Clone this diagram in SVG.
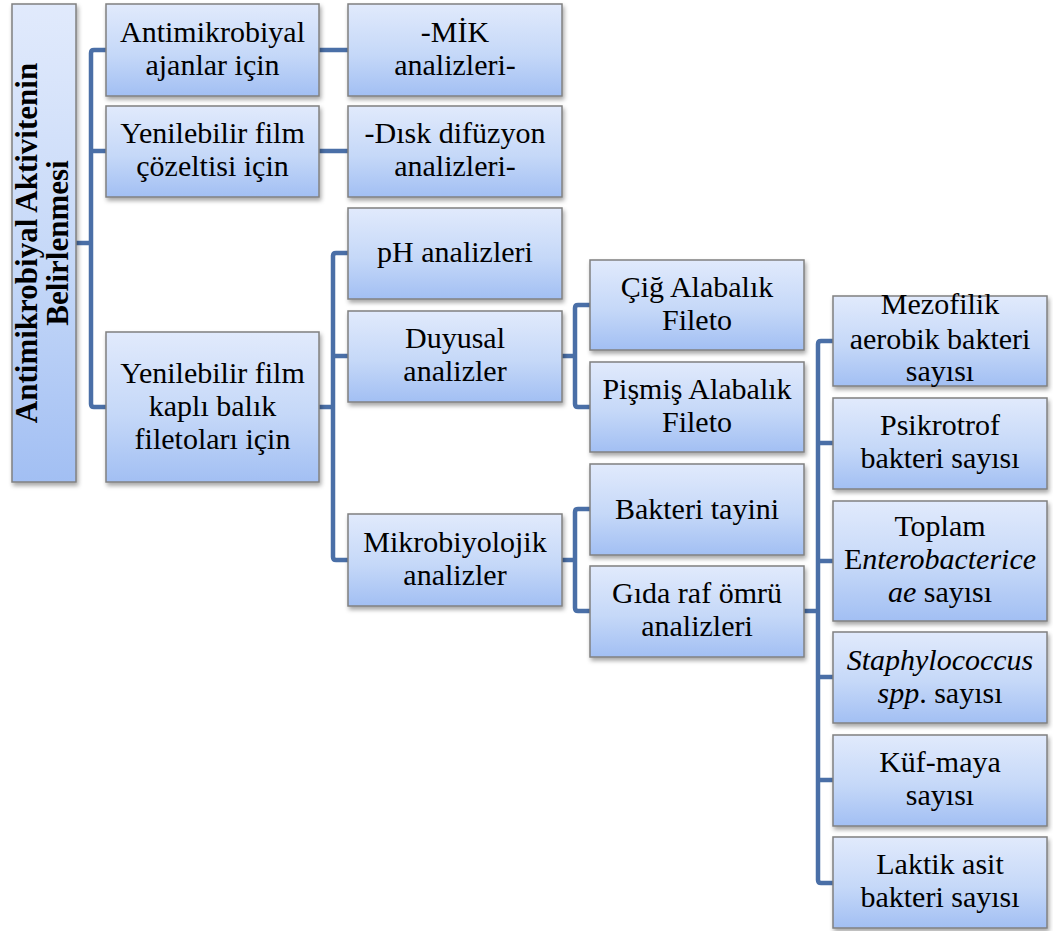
<svg xmlns="http://www.w3.org/2000/svg" width="1053" height="931" viewBox="0 0 1053 931">
<defs>
<linearGradient id="g" x1="0" y1="0" x2="0" y2="1">
<stop offset="0" stop-color="#e1eafc"/>
<stop offset="0.55" stop-color="#c5d8f8"/>
<stop offset="1" stop-color="#a2bff3"/>
</linearGradient>
<filter id="sh" x="-10%" y="-10%" width="125%" height="130%">
<feDropShadow dx="1.5" dy="3" stdDeviation="2" flood-color="#000" flood-opacity="0.35"/>
</filter>
<style>
.b{fill:url(#g);stroke:#808080;stroke-width:1.5;filter:url(#sh)}
.t{font-family:"Liberation Serif","Times New Roman",serif;font-size:30px;fill:#000;text-anchor:middle}
.r{font-family:"Liberation Serif","Times New Roman",serif;font-size:31px;font-weight:bold;fill:#000;text-anchor:middle}
.c{fill:none;stroke:#4a6fa7;stroke-width:4.5;stroke-linejoin:round;stroke-linecap:butt}
.i{font-style:italic}
</style>
</defs>
<rect width="1053" height="931" fill="#fff"/>
<g id="connectors">
<path class="c" d="M76,243H91"/>
<path class="c" d="M106,50H94Q91,50 91,53V404Q91,407 94,407H106"/>
<path class="c" d="M91,151H106"/>
<path class="c" d="M319,50H348"/>
<path class="c" d="M319,151H348"/>
<path class="c" d="M319,407H333"/>
<path class="c" d="M348,253H336Q333,253 333,256V557Q333,560 336,560H348"/>
<path class="c" d="M333,356H348"/>
<path class="c" d="M562,356H575"/>
<path class="c" d="M590,305H578Q575,305 575,308V404Q575,407 578,407H590"/>
<path class="c" d="M562,560H575"/>
<path class="c" d="M590,509H578Q575,509 575,512V608Q575,611 578,611H590"/>
<path class="c" d="M804,611H818"/>
<path class="c" d="M833,341H821Q818,341 818,344V880Q818,883 821,883H833"/>
<path class="c" d="M818,443H833M818,561H833M818,677H833M818,780H833"/>
</g>
<g id="root">
<rect class="b" x="12" y="4" width="64" height="478"/>
<text class="r" transform="translate(37,243) rotate(-90)">Antimikrobiyal Aktivitenin</text>
<text class="r" transform="translate(68,243) rotate(-90)">Belirlenmesi</text>
</g>
<g id="n-antimikrobiyal">
<rect class="b" x="106" y="4" width="213" height="92"/>
<text class="t" x="212.5" y="42">Antimikrobiyal</text>
<text class="t" x="212.5" y="75">ajanlar için</text>
</g>
<g id="n-film-cozelti">
<rect class="b" x="106" y="106" width="213" height="91"/>
<text class="t" x="212.5" y="143">Yenilebilir film</text>
<text class="t" x="212.5" y="176">çözeltisi için</text>
</g>
<g id="n-film-balik">
<rect class="b" x="106" y="332" width="213" height="150"/>
<text class="t" x="212.5" y="383">Yenilebilir film</text>
<text class="t" x="212.5" y="416">kaplı balık</text>
<text class="t" x="212.5" y="449">filetoları için</text>
</g>
<g id="n-mik">
<rect class="b" x="348" y="4" width="214" height="92"/>
<text class="t" x="455" y="42">-MİK</text>
<text class="t" x="455" y="75">analizleri-</text>
</g>
<g id="n-disk">
<rect class="b" x="348" y="106" width="214" height="91"/>
<text class="t" x="455" y="143">-Dısk difüzyon</text>
<text class="t" x="455" y="176">analizleri-</text>
</g>
<g id="n-ph">
<rect class="b" x="348" y="208" width="214" height="91"/>
<text class="t" x="455" y="262">pH analizleri</text>
</g>
<g id="n-duyusal">
<rect class="b" x="348" y="311" width="214" height="91"/>
<text class="t" x="455" y="348">Duyusal</text>
<text class="t" x="455" y="381">analizler</text>
</g>
<g id="n-mikro">
<rect class="b" x="348" y="514" width="214" height="92"/>
<text class="t" x="455" y="552">Mikrobiyolojik</text>
<text class="t" x="455" y="585">analizler</text>
</g>
<g id="n-cig">
<rect class="b" x="590" y="260" width="214" height="90"/>
<text class="t" x="697" y="297">Çiğ Alabalık</text>
<text class="t" x="697" y="330">Fileto</text>
</g>
<g id="n-pismis">
<rect class="b" x="590" y="362" width="214" height="90"/>
<text class="t" x="697" y="399">Pişmiş Alabalık</text>
<text class="t" x="697" y="432">Fileto</text>
</g>
<g id="n-bakteri">
<rect class="b" x="590" y="464" width="214" height="91"/>
<text class="t" x="697" y="519">Bakteri tayini</text>
</g>
<g id="n-gida">
<rect class="b" x="590" y="566" width="214" height="91"/>
<text class="t" x="697" y="603">Gıda raf ömrü</text>
<text class="t" x="697" y="636">analizleri</text>
</g>
<g id="n-mezofilik">
<rect class="b" x="833" y="296" width="214" height="90"/>
<text class="t" x="940" y="314">Mezofilik</text>
<text class="t" x="940" y="349">aerobik bakteri</text>
<text class="t" x="940" y="381">sayısı</text>
</g>
<g id="n-psikrotrof">
<rect class="b" x="833" y="398" width="214" height="91"/>
<text class="t" x="940" y="435">Psikrotrof</text>
<text class="t" x="940" y="468">bakteri sayısı</text>
</g>
<g id="n-entero">
<rect class="b" x="833" y="501" width="214" height="120"/>
<text class="t" x="940" y="536">Toplam</text>
<text class="t" x="940" y="569">E<tspan class="i">nterobacterice</tspan></text>
<text class="t" x="940" y="602"><tspan class="i">ae</tspan> sayısı</text>
</g>
<g id="n-staph">
<rect class="b" x="833" y="632" width="214" height="91"/>
<text class="t" x="940" y="670"><tspan class="i">Staphylococcus</tspan></text>
<text class="t" x="940" y="703"><tspan class="i">spp</tspan>. sayısı</text>
</g>
<g id="n-kuf">
<rect class="b" x="833" y="735" width="214" height="91"/>
<text class="t" x="940" y="772">Küf-maya</text>
<text class="t" x="940" y="805">sayısı</text>
</g>
<g id="n-laktik">
<rect class="b" x="833" y="837" width="214" height="91"/>
<text class="t" x="940" y="874">Laktik asit</text>
<text class="t" x="940" y="907">bakteri sayısı</text>
</g>
</svg>
